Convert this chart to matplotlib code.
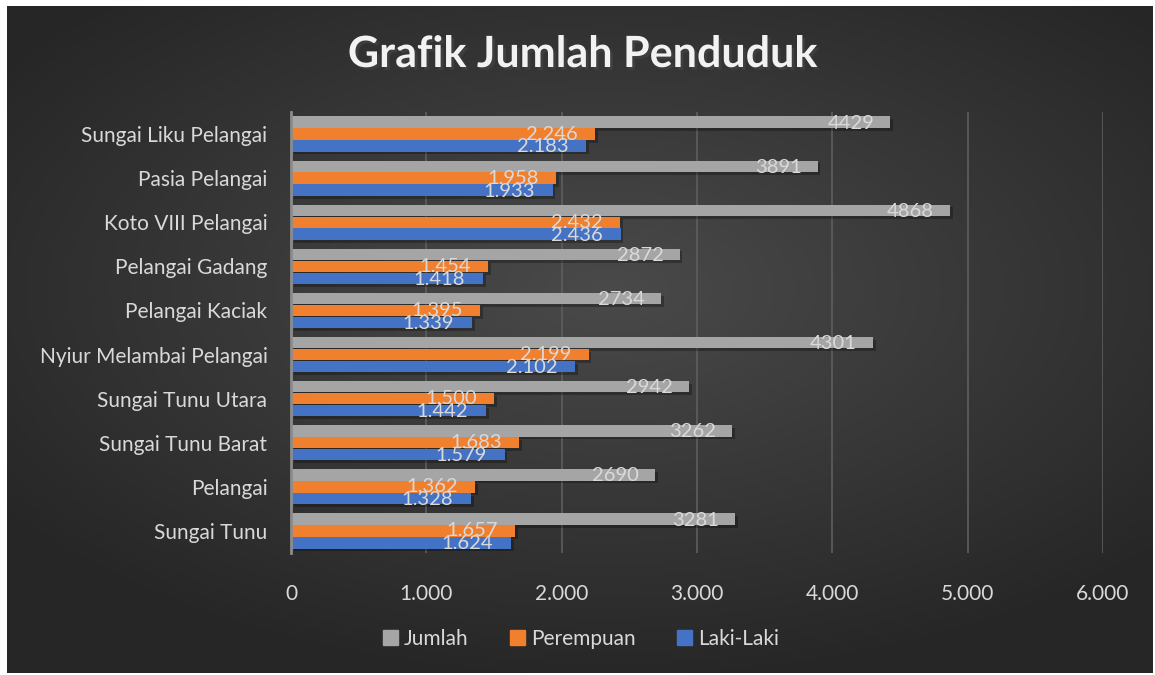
import numpy as np
import matplotlib
matplotlib.use("Agg")
import matplotlib.pyplot as plt
import matplotlib.patheffects as pe
from matplotlib.patches import Patch

plt.rcParams['font.family'] = ['Lato', 'DejaVu Sans']

# data (bottom to top)
desa = ["Sungai Tunu", "Pelangai", "Sungai Tunu Barat", "Sungai Tunu Utara",
        "Nyiur Melambai Pelangai", "Pelangai Kaciak", "Pelangai Gadang",
        "Koto VIII Pelangai", "Pasia Pelangai", "Sungai Liku Pelangai"]
laki = [1624, 1328, 1579, 1442, 2102, 1339, 1418, 2436, 1933, 2183]
perempuan = [1657, 1362, 1683, 1500, 2199, 1395, 1454, 2432, 1958, 2246]
jumlah = [3281, 2690, 3262, 2942, 4301, 2734, 2872, 4868, 3891, 4429]
xticks = [0, 1000, 2000, 3000, 4000, 5000, 6000]

c_jml = "#A5A5A5"
c_per = "#F07F2E"
c_lak = "#4472C4"
txt = "#D9D9D9"

fig = plt.figure(figsize=(11.55, 6.75), dpi=100, facecolor="white")

# background with radial gradient
bg = fig.add_axes([7 / 1155, 2 / 675, 1146 / 1155, 667 / 675])
gx, gy = np.meshgrid(np.linspace(-1, 1, 400), np.linspace(-1, 1, 240))
r = np.sqrt(((gx - 0.05) * 1.0) ** 2 + ((gy + 0.15) * 1.1) ** 2)
shade = 0.29 - 0.14 * np.clip(r, 0, 1.3) / 1.3
img = np.dstack([shade, shade, shade])
bg.imshow(img, aspect="auto", extent=[0, 1, 0, 1], interpolation="bilinear")
bg.set_axis_off()

ax = fig.add_axes([291 / 1155, 1 - 553 / 675, 812 / 1155, 441 / 675])
ax.set_facecolor("none")

y = np.arange(len(desa))
h = 0.26
off = 0.27
shadow = [pe.SimplePatchShadow(offset=(2, -2), shadow_rgbFace="black", alpha=0.28), pe.Normal()]

b1 = ax.barh(y + off, jumlah, height=h, color=c_jml, zorder=3, path_effects=shadow)
b2 = ax.barh(y, perempuan, height=h, color=c_per, zorder=3, path_effects=shadow)
b3 = ax.barh(y - off, laki, height=h, color=c_lak, zorder=3, path_effects=shadow)

def dot_fmt(v):
    return f"{v:,}".replace(",", ".")

for i in range(len(desa)):
    ax.annotate(str(jumlah[i]), (jumlah[i], y[i] + off), xytext=(-16, -1),
                textcoords="offset pixels", ha="right", va="center",
                color=txt, fontsize=14.5, zorder=5)
    ax.annotate(dot_fmt(perempuan[i]), (perempuan[i], y[i]), xytext=(-17, 0),
                textcoords="offset pixels", ha="right", va="center",
                color=txt, fontsize=14.5, zorder=5)
    ax.annotate(dot_fmt(laki[i]), (laki[i], y[i] - off), xytext=(-18, -1),
                textcoords="offset pixels", ha="right", va="center",
                color=txt, fontsize=14.5, zorder=5)

ax.set_xlim(0, 6000)
ax.set_ylim(-0.5, len(desa) - 0.5)
ax.set_xticks(xticks)
ax.set_xticklabels([dot_fmt(v) for v in xticks])
ax.set_yticks(y)
ax.set_yticklabels(desa)
ax.tick_params(axis="both", length=0, colors=txt, labelsize=15)
ax.tick_params(axis="x", pad=22)
ax.tick_params(axis="y", pad=17)
ax.grid(axis="x", color="#5E5E5E", linewidth=1.2, zorder=0)
for s in ["top", "right", "bottom"]:
    ax.spines[s].set_visible(False)
ax.spines["left"].set_color("#8C8C8C")
ax.spines["left"].set_linewidth(2)
ax.spines["left"].set_zorder(4)

fig.text(0.504, 1 - 54 / 675, "Grafik Jumlah Penduduk", ha="center", va="center",
         color="#F2F2F2", fontsize=31, fontweight="bold",
         path_effects=[pe.withSimplePatchShadow(offset=(2, -2), alpha=0.5)])

handles = [Patch(color=c_jml), Patch(color=c_per), Patch(color=c_lak)]
fig.legend(handles, ["Jumlah", "Perempuan", "Laki-Laki"], loc="center",
           bbox_to_anchor=(0.503, 1 - 639 / 675), ncol=3, frameon=False,
           fontsize=15, labelcolor=txt, handlelength=0.7, handleheight=0.7,
           handletextpad=0.3, columnspacing=2.0)

fig.savefig("out.png", dpi=100, facecolor=fig.get_facecolor())
